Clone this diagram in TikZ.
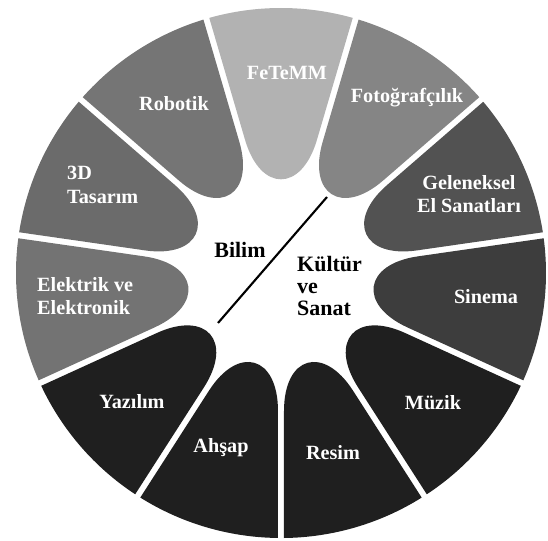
\documentclass[tikz,border=0pt]{standalone}
\usepackage{fontspec}
\setmainfont{Liberation Serif}
\usepackage{tikz}
\usetikzlibrary{calc,positioning}

\begin{document}
\begin{tikzpicture}[x=0.02cm,y=0.02cm,
    petaltext/.style={text=white,font=\fontsize{11.5}{13.5}\selectfont\bfseries},
    hubtext/.style={text=black,font=\fontsize{12.5}{12.5}\selectfont\bfseries}]
            % Fix the frame
            \useasboundingbox (-281,-268) rectangle (267,273);
            % Draw the petals
            \foreach \a/\p in {90/30, 57.27/48, 24.55/68, -8.18/76, -40.91/88, -73.64/88,
                               -106.36/88, -139.09/88, -171.82/55, -204.55/58, -237.27/54}{
              \pgfmathsetmacro\lo{\a-16.36}
              \pgfmathsetmacro\hi{\a+16.36}
              \fill[black!\p] ($(\lo:138)+(\lo+90:3)$) coordinate (p)
                -- ($(\lo:265)+(\lo+90:3)$) arc[start angle=\lo+0.65, end angle=\hi-0.65, radius=265]
                -- ($(\hi:138)+(\hi-90:3)$) coordinate (q)
                .. controls ($(q)+(\hi:-55)$) and ($(p)+(\lo:-55)$) .. (p) -- cycle;
            }
            % Label the petals
            \node[petaltext] (fetemm) at (6,200) {FeTeMM};
            \node[petaltext] (fotograf) at (126,175) {Fotoğrafçılık};
            \node[petaltext,align=center] (geleneksel) at (188,79) {Geleneksel\\El Sanatları};
            \node[petaltext] (sinema) at (205,-24) {Sinema};
            \node[petaltext] (muzik) at (152,-130) {Müzik};
            \node[petaltext] (resim) at (52,-180) {Resim};
            \node[petaltext] (ahsap) at (-60,-175) {Ahşap};
            \node[petaltext] (yazilim) at (-149,-129) {Yazılım};
            \node[petaltext,align=left,anchor=west] (elektrik) at (-250,-23) {Elektrik ve\\Elektronik};
            \node[petaltext,align=left,anchor=west] (tasarim) at (-220,88) {3D\\Tasarım};
            \node[petaltext] (robotik) at (-107,169) {Robotik};
            % Split the hub
            \coordinate (S) at (-63,-50);
            \coordinate (E) at (46,76);
            \draw[line width=1.2pt] (S) -- (E);
            \node[hubtext] (bilim) at (-41,23) {Bilim};
            \node[hubtext,align=left,anchor=west] (kultur) at (10,-13) {Kültür\\ve\\Sanat};
          \end{tikzpicture}
\end{document}
